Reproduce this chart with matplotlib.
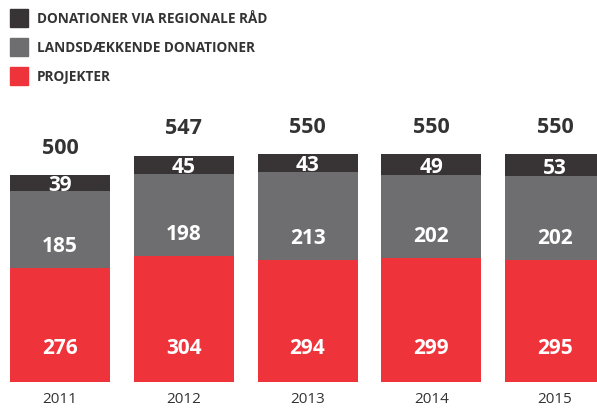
import matplotlib.pyplot as plt

years = ['2011', '2012', '2013', '2014', '2015']
projekter = [276, 304, 294, 299, 295]
landsdaekkende = [185, 198, 213, 202, 202]
regionale = [39, 45, 43, 49, 53]
totals = [500, 547, 550, 550, 550]

red = '#ee333a'
gray = '#6e6d6f'
dark = '#383435'
font = 'Open Sans'

fig = plt.figure(figsize=(5.97, 4.10), dpi=100)
ax = fig.add_axes([0, 0, 1, 1])
ax.set_xlim(-0.485, 4.339)
ax.set_ylim(-66, 926)
ax.axis('off')

x = range(len(years))
w = 0.808
mid = [p for p in projekter]
top = [p + l for p, l in zip(projekter, landsdaekkende)]

ax.bar(x, projekter, width=w, color=red)
ax.bar(x, landsdaekkende, width=w, bottom=projekter, color=gray)
ax.bar(x, regionale, width=w, bottom=top, color=dark)

for i in x:
    ax.text(i, 82, str(projekter[i]), ha='center', va='center', color='white',
            fontsize=15, fontweight='bold', family=font)
    ax.text(i, mid[i] + 54, str(landsdaekkende[i]), ha='center', va='center', color='white',
            fontsize=15, fontweight='bold', family=font)
    ax.text(i, top[i] + regionale[i] / 2 - 4, str(regionale[i]), ha='center', va='center',
            color='white', fontsize=15, fontweight='bold', family=font)
    ax.text(i, totals[i] + 67, str(totals[i]), ha='center', va='center', color='#333333',
            fontsize=15.5, fontweight='bold', family=font)
    ax.text(i, -48, years[i], ha='center', va='baseline', color='#333333',
            fontsize=11, family=font)

# legende
legend = [('DONATIONER VIA REGIONALE RÅD', dark),
          ('LANDSDÆKKENDE DONATIONER', gray),
          ('PROJEKTER', red)]
for k, (label, c) in enumerate(legend):
    yc = 410 - 19 - k * 29
    fig.patches.append(plt.Rectangle((10 / 597, (yc - 9) / 410), 18 / 597, 18 / 410,
                                     transform=fig.transFigure, color=c))
    fig.text(37 / 597, yc / 410, label, ha='left', va='center', color='#333333',
             fontsize=9.8, fontweight='bold', family=font)

fig.savefig('out.png', dpi=100)
